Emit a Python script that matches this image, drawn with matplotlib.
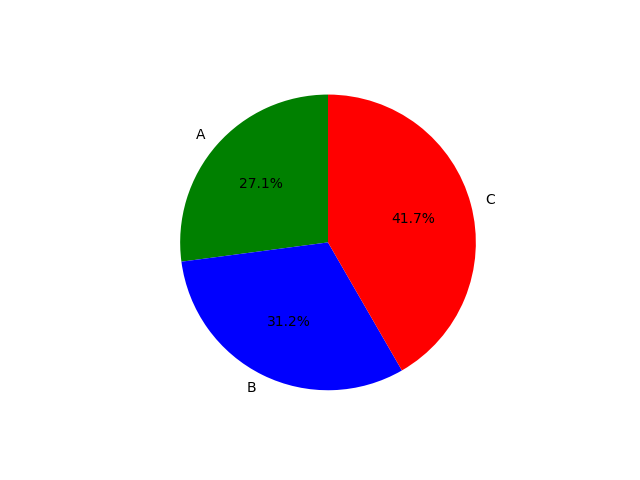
import matplotlib
matplotlib.use("Agg")
import matplotlib.pyplot as plt

labels = ["A", "B", "C"]
sizes = [65, 75, 100]
colors = ["green", "blue", "red"]

fig, ax = plt.subplots(figsize=(6.4, 4.8), dpi=100)
ax.pie(sizes, labels=labels, colors=colors, autopct="%1.1f%%", startangle=90)

plt.savefig("out.png")
